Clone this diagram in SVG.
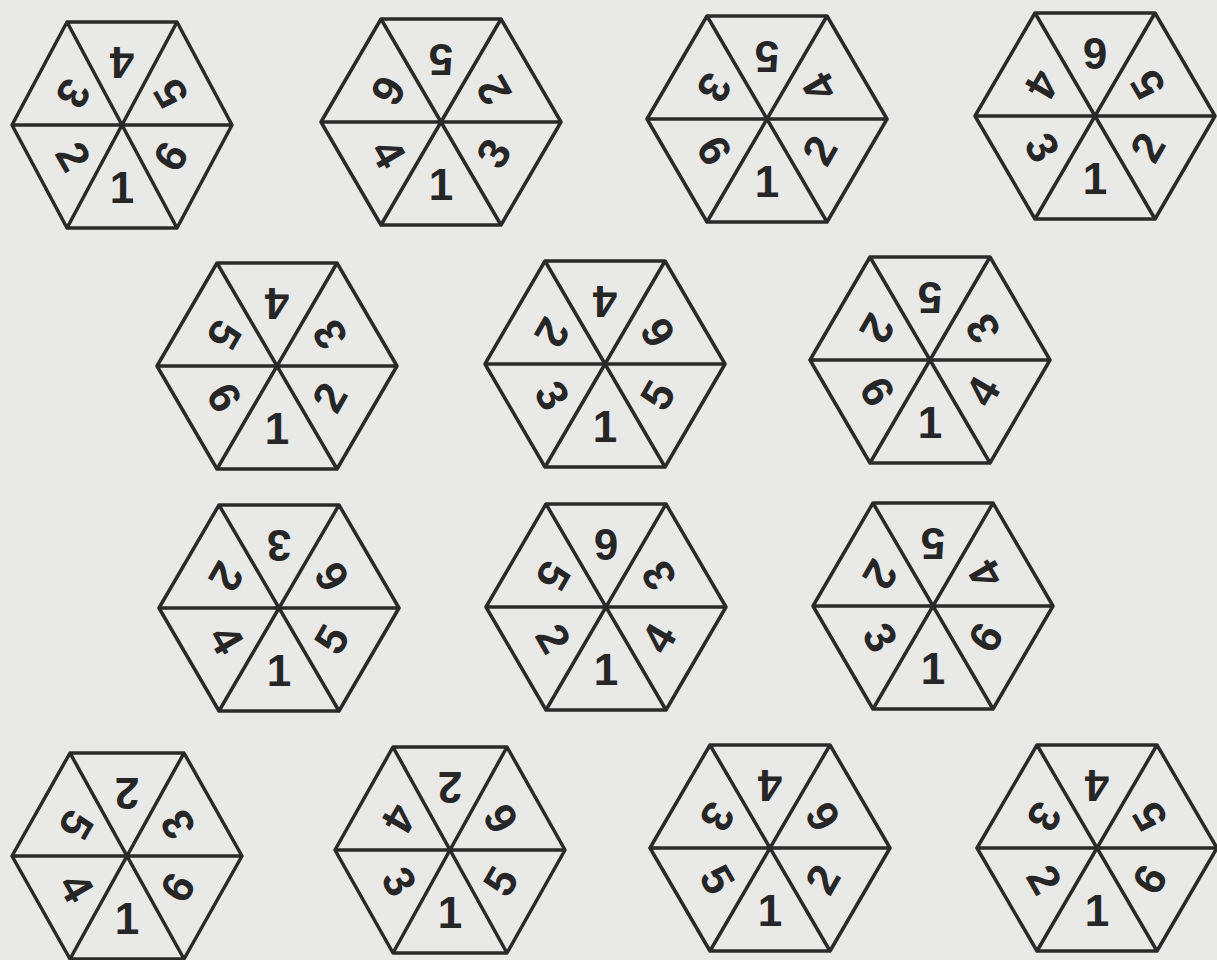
<svg xmlns="http://www.w3.org/2000/svg" xmlns:xlink="http://www.w3.org/1999/xlink" width="1217" height="960" viewBox="0 0 1217 960">
<style>
.hx{fill:none;stroke:#2a2a2a;stroke-width:3.5;stroke-linejoin:round}
text{font-family:"Liberation Sans",Arial,sans-serif;font-weight:bold;font-size:44px;fill:#262626;text-anchor:middle}
</style>
<defs>
<path id="hex" d="M-120,0 L-60,-103 L60,-103 L120,0 L60,103 L-60,103 Z M-120,0 L120,0 M-60,-103 L60,103 M60,-103 L-60,103"/>
<path id="hexn" d="M-110,0 L-55,-103 L55,-103 L110,0 L55,103 L-55,103 Z M-110,0 L110,0 M-55,-103 L55,103 M55,-103 L-55,103"/>
<path id="hexm" d="M-115,0 L-57,-103 L57,-103 L115,0 L57,103 L-57,103 Z M-115,0 L115,0 M-57,-103 L57,103 M57,-103 L-57,103"/>
</defs>
<rect width="1217" height="960" fill="#e9e9e7"/>

<g id="hex1" transform="translate(122,125)">
<use xlink:href="#hexn" class="hx"/>
<text transform="translate(0,-62) rotate(180)" y="16">4</text>
<text transform="translate(48,-31) rotate(-120)" y="16">5</text>
<text transform="translate(48,31) rotate(-60)" y="16">6</text>
<text transform="translate(0,62)" y="16">1</text>
<text transform="translate(-48,31) rotate(60)" y="16">2</text>
<text transform="translate(-48,-31) rotate(120)" y="16">3</text>
</g>

<g id="hex2" transform="translate(441,122)">
<use xlink:href="#hex" class="hx"/>
<text transform="translate(0,-62) rotate(180)" y="16">5</text>
<text transform="translate(52,-31) rotate(-120)" y="16">2</text>
<text transform="translate(52,31) rotate(-60)" y="16">3</text>
<text transform="translate(0,62)" y="16">1</text>
<text transform="translate(-52,31) rotate(60)" y="16">4</text>
<text transform="translate(-52,-31) rotate(120)" y="16">6</text>
</g>

<g id="hex3" transform="translate(767,119)">
<use xlink:href="#hex" class="hx"/>
<text transform="translate(0,-62) rotate(180)" y="16">5</text>
<text transform="translate(52,-31) rotate(-120)" y="16">4</text>
<text transform="translate(52,31) rotate(-60)" y="16">2</text>
<text transform="translate(0,62)" y="16">1</text>
<text transform="translate(-52,31) rotate(60)" y="16">6</text>
<text transform="translate(-52,-31) rotate(120)" y="16">3</text>
</g>

<g id="hex4" transform="translate(1095,116)">
<use xlink:href="#hex" class="hx"/>
<text transform="translate(0,-62) rotate(180)" y="16">6</text>
<text transform="translate(52,-31) rotate(-120)" y="16">5</text>
<text transform="translate(52,31) rotate(-60)" y="16">2</text>
<text transform="translate(0,62)" y="16">1</text>
<text transform="translate(-52,31) rotate(60)" y="16">3</text>
<text transform="translate(-52,-31) rotate(120)" y="16">4</text>
</g>

<g id="hex5" transform="translate(277,366)">
<use xlink:href="#hex" class="hx"/>
<text transform="translate(0,-62) rotate(180)" y="16">4</text>
<text transform="translate(52,-31) rotate(-120)" y="16">3</text>
<text transform="translate(52,31) rotate(-60)" y="16">2</text>
<text transform="translate(0,62)" y="16">1</text>
<text transform="translate(-52,31) rotate(60)" y="16">6</text>
<text transform="translate(-52,-31) rotate(120)" y="16">5</text>
</g>

<g id="hex6" transform="translate(605,364)">
<use xlink:href="#hex" class="hx"/>
<text transform="translate(0,-62) rotate(180)" y="16">4</text>
<text transform="translate(52,-31) rotate(-120)" y="16">6</text>
<text transform="translate(52,31) rotate(-60)" y="16">5</text>
<text transform="translate(0,62)" y="16">1</text>
<text transform="translate(-52,31) rotate(60)" y="16">3</text>
<text transform="translate(-52,-31) rotate(120)" y="16">2</text>
</g>

<g id="hex7" transform="translate(930,360)">
<use xlink:href="#hex" class="hx"/>
<text transform="translate(0,-62) rotate(180)" y="16">5</text>
<text transform="translate(52,-31) rotate(-120)" y="16">3</text>
<text transform="translate(52,31) rotate(-60)" y="16">4</text>
<text transform="translate(0,62)" y="16">1</text>
<text transform="translate(-52,31) rotate(60)" y="16">6</text>
<text transform="translate(-52,-31) rotate(120)" y="16">2</text>
</g>

<g id="hex8" transform="translate(279,608)">
<use xlink:href="#hex" class="hx"/>
<text transform="translate(0,-62) rotate(180)" y="16">3</text>
<text transform="translate(52,-31) rotate(-120)" y="16">6</text>
<text transform="translate(52,31) rotate(-60)" y="16">5</text>
<text transform="translate(0,62)" y="16">1</text>
<text transform="translate(-52,31) rotate(60)" y="16">4</text>
<text transform="translate(-52,-31) rotate(120)" y="16">2</text>
</g>

<g id="hex9" transform="translate(606,607)">
<use xlink:href="#hex" class="hx"/>
<text transform="translate(0,-62) rotate(180)" y="16">6</text>
<text transform="translate(52,-31) rotate(-120)" y="16">3</text>
<text transform="translate(52,31) rotate(-60)" y="16">4</text>
<text transform="translate(0,62)" y="16">1</text>
<text transform="translate(-52,31) rotate(60)" y="16">2</text>
<text transform="translate(-52,-31) rotate(120)" y="16">5</text>
</g>

<g id="hex10" transform="translate(933,606)">
<use xlink:href="#hex" class="hx"/>
<text transform="translate(0,-62) rotate(180)" y="16">5</text>
<text transform="translate(52,-31) rotate(-120)" y="16">4</text>
<text transform="translate(52,31) rotate(-60)" y="16">6</text>
<text transform="translate(0,62)" y="16">1</text>
<text transform="translate(-52,31) rotate(60)" y="16">3</text>
<text transform="translate(-52,-31) rotate(120)" y="16">2</text>
</g>

<g id="hex11" transform="translate(127,856)">
<use xlink:href="#hexm" class="hx"/>
<text transform="translate(0,-62) rotate(180)" y="16">2</text>
<text transform="translate(50,-31) rotate(-120)" y="16">3</text>
<text transform="translate(50,31) rotate(-60)" y="16">6</text>
<text transform="translate(0,62)" y="16">1</text>
<text transform="translate(-50,31) rotate(60)" y="16">4</text>
<text transform="translate(-50,-31) rotate(120)" y="16">5</text>
</g>

<g id="hex12" transform="translate(450,850)">
<use xlink:href="#hexm" class="hx"/>
<text transform="translate(0,-62) rotate(180)" y="16">2</text>
<text transform="translate(50,-31) rotate(-120)" y="16">6</text>
<text transform="translate(50,31) rotate(-60)" y="16">5</text>
<text transform="translate(0,62)" y="16">1</text>
<text transform="translate(-50,31) rotate(60)" y="16">3</text>
<text transform="translate(-50,-31) rotate(120)" y="16">4</text>
</g>

<g id="hex13" transform="translate(770,848)">
<use xlink:href="#hex" class="hx"/>
<text transform="translate(0,-62) rotate(180)" y="16">4</text>
<text transform="translate(52,-31) rotate(-120)" y="16">6</text>
<text transform="translate(52,31) rotate(-60)" y="16">2</text>
<text transform="translate(0,62)" y="16">1</text>
<text transform="translate(-52,31) rotate(60)" y="16">5</text>
<text transform="translate(-52,-31) rotate(120)" y="16">3</text>
</g>

<g id="hex14" transform="translate(1097,848)">
<use xlink:href="#hex" class="hx"/>
<text transform="translate(0,-62) rotate(180)" y="16">4</text>
<text transform="translate(52,-31) rotate(-120)" y="16">5</text>
<text transform="translate(52,31) rotate(-60)" y="16">6</text>
<text transform="translate(0,62)" y="16">1</text>
<text transform="translate(-52,31) rotate(60)" y="16">2</text>
<text transform="translate(-52,-31) rotate(120)" y="16">3</text>
</g>

<g id="connectors"></g>
</svg>
